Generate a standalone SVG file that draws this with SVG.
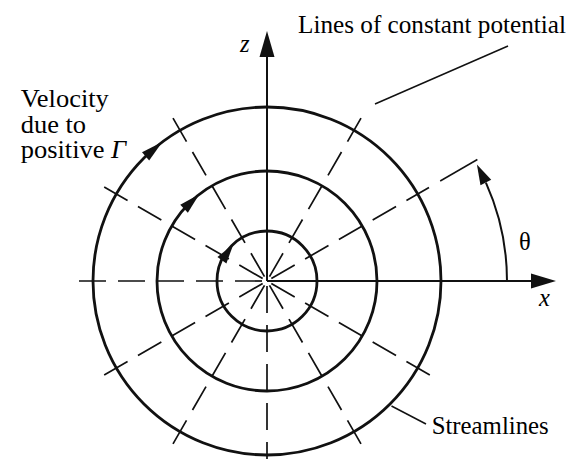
<svg xmlns="http://www.w3.org/2000/svg" width="582" height="459" viewBox="0 0 582 459">
<style>
.lbl{font-family:"Liberation Serif","Times New Roman",serif;font-size:24.5px;fill:#000}
.it{font-style:italic}
.circ{fill:none;stroke:#111;stroke-width:2.8}
.axis{stroke:#111;stroke-width:2;fill:none}
.rad{stroke:#111;stroke-width:1.7;stroke-dasharray:27 12;fill:none}
.thin{stroke:#111;stroke-width:1.5;fill:none}
.head{fill:#111;stroke:none}
</style>
<rect width="582" height="459" fill="#fff"/>
<g id="connectors">
  <g id="potential-lines">
    <line class="rad" x1="271.33" y1="278.5" x2="429" y2="187.5"/>
    <line class="thin" x1="440.2" y1="181" x2="477.4" y2="159.5"/>
    <line class="rad" x1="269.5" y1="276.67" x2="364.5" y2="112.13"/>
    <line class="rad" x1="264.5" y1="276.67" x2="169.5" y2="112.13"/>
    <line class="rad" x1="262.67" y1="278.5" x2="98.13" y2="183.5"/>
    <line class="rad" x1="262" y1="281" x2="72" y2="281"/>
    <line class="rad" x1="262.67" y1="283.5" x2="98.13" y2="378.5"/>
    <line class="rad" x1="264.5" y1="285.33" x2="169.5" y2="449.87"/>
    <line class="rad" x1="267" y1="286" x2="267" y2="476"/>
    <line class="rad" x1="269.5" y1="285.33" x2="366" y2="452.5"/>
    <line class="rad" x1="271.33" y1="283.5" x2="435.87" y2="378.5"/>
  </g>
  <g id="axes">
    <line class="axis" x1="267" y1="281" x2="267" y2="54"/>
    <polygon class="head" points="267,31 259.5,57 274.5,57"/>
    <line class="axis" x1="267" y1="281" x2="533" y2="281"/>
    <polygon class="head" points="556,281 531,273.5 531,288.5"/>
  </g>
  <g id="theta-arc">
    <path class="axis" d="M 507 281 A 240 240 0 0 0 485.9 182.6"/>
    <polygon class="head" points="0,0 -20,-6 -20,6" transform="translate(476.9,164.6) rotate(-116.6)"/>
  </g>
  <g id="leaders">
    <line class="thin" x1="375" y1="104" x2="508" y2="46"/>
    <line class="thin" x1="391.5" y1="406" x2="426" y2="424"/>
  </g>
</g>
<g id="streamline-inner">
  <circle class="circ" cx="267" cy="281" r="50"/>
  <polygon class="head" points="0,0 -20,-5.5 -20,5.5" transform="translate(233.5,244) rotate(-54.5)"/>
</g>
<g id="streamline-middle">
  <circle class="circ" cx="267" cy="281" r="110"/>
  <polygon class="head" points="0,0 -21,-5.5 -21,5.5" transform="translate(199.3,194.3) rotate(-43.5)"/>
</g>
<g id="streamline-outer">
  <circle class="circ" cx="267" cy="281" r="174"/>
  <polygon class="head" points="0,0 -22,-5.5 -22,5.5" transform="translate(162.3,142) rotate(-40.6)"/>
</g>
<g id="labels">
  <text class="lbl it" x="240" y="52" font-size="25">z</text>
  <text class="lbl it" x="539" y="306">x</text>
  <text class="lbl" x="519" y="250">θ</text>
  <text class="lbl" x="298" y="33" textLength="268" lengthAdjust="spacingAndGlyphs">Lines of constant potential</text>
  <g transform="translate(20.7,0) scale(1.08,1)">
    <text class="lbl" font-size="21.5" x="0" y="107.5">Velocity</text>
    <text class="lbl" font-size="21.5" x="0" y="133">due to</text>
    <text class="lbl" font-size="21.5" x="0" y="158.5">positive <tspan class="it">Γ</tspan></text>
  </g>
  <text class="lbl" x="431.7" y="434" textLength="117" lengthAdjust="spacingAndGlyphs">Streamlines</text>
</g>
</svg>
